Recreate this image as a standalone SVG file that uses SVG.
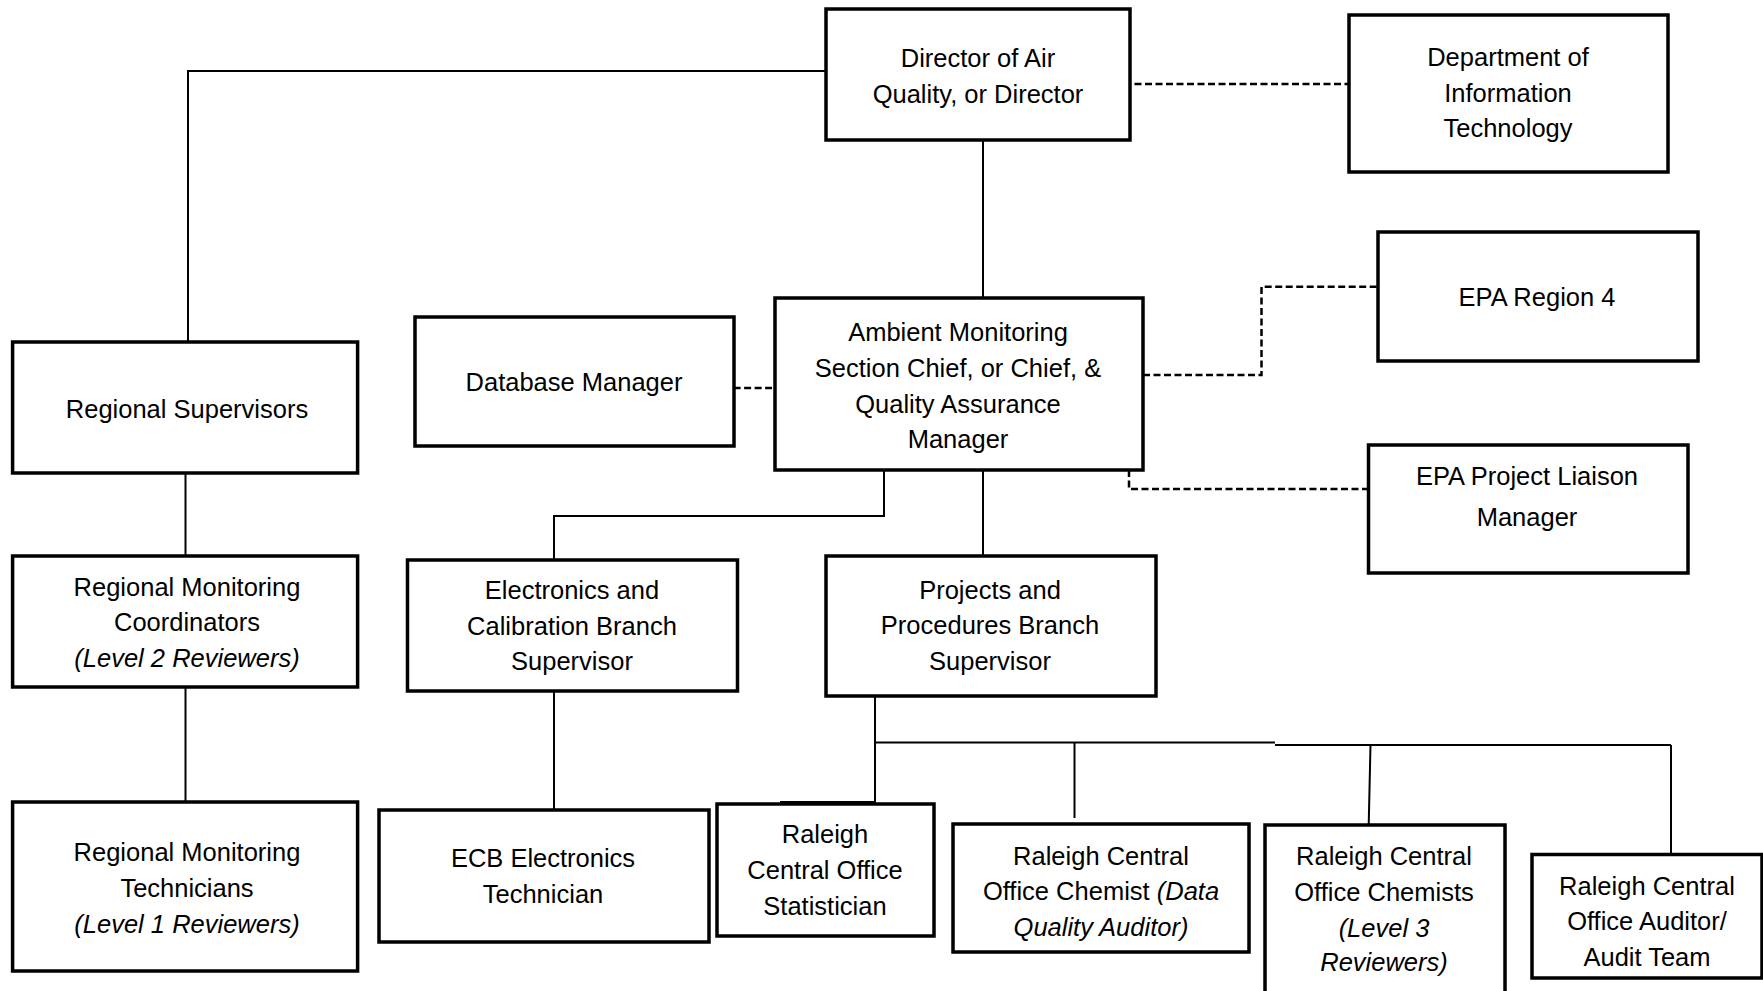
<svg xmlns="http://www.w3.org/2000/svg" width="1763" height="991" viewBox="0 0 1763 991">
<style>
.box{fill:#fff;stroke:#000;stroke-width:3.5}
.ln{fill:none;stroke:#000;stroke-width:2}
.dash{fill:none;stroke:#000;stroke-width:2.5;stroke-dasharray:7 3.5}
text{font-family:"Liberation Sans",Arial,sans-serif;font-size:25.5px;text-anchor:middle;fill:#000}
.it{font-style:italic}
</style>
<rect width="1763" height="991" fill="#fff"/>
<g id="connectors">
<path class="ln" d="M826,71 H188 V342"/>
<path class="ln" d="M983,140 V298"/>
<path class="ln" d="M185.5,473 V556"/>
<path class="ln" d="M185.5,687 V802"/>
<path class="ln" d="M884,470 V516 H554 V560"/>
<path class="ln" d="M983,470 V556"/>
<path class="ln" d="M554,691 V810"/>
<path class="ln" d="M875,696 V804"/>
<path class="ln" d="M780,802.5 H875" style="stroke-width:3"/>
<path class="ln" d="M875,742.5 H1275 M1275,745 H1671"/>
<path class="ln" d="M1074.5,742.5 V818"/>
<path class="ln" d="M1370.5,745 L1368.7,825"/>
<path class="ln" d="M1671,745 V854.5"/>
<path class="dash" d="M1125.5,9 V84 H1348.5"/>
<path class="dash" d="M1143,375 H1261.5 V286.7 H1378"/>
<path class="dash" d="M1129,470 V489 H1368.5"/>
<path class="dash" d="M733.6,388 H775"/>
</g>
<g id="director">
<rect class="box" x="826" y="9" width="304" height="131"/>
<text x="978" y="67">Director of Air</text>
<text x="978" y="102.5">Quality, or Director</text>
</g>
<g id="dept-it">
<rect class="box" x="1349" y="15" width="319" height="157"/>
<text x="1508" y="66">Department of</text>
<text x="1508" y="102">Information</text>
<text x="1508" y="137">Technology</text>
</g>
<g id="epa-region4">
<rect class="box" x="1378" y="232" width="320" height="129"/>
<text x="1537" y="306">EPA Region 4</text>
</g>
<g id="epa-liaison">
<rect class="box" x="1368.5" y="445" width="319.5" height="128"/>
<text x="1527" y="485">EPA Project Liaison</text>
<text x="1527" y="526">Manager</text>
</g>
<g id="ambient">
<rect class="box" x="775" y="298" width="368" height="172"/>
<text x="958" y="341">Ambient Monitoring</text>
<text x="958" y="377">Section Chief, or Chief, &amp;</text>
<text x="958" y="412.5">Quality Assurance</text>
<text x="958" y="448">Manager</text>
</g>
<g id="database-manager">
<rect class="box" x="415" y="317" width="319" height="129"/>
<text x="574" y="391">Database Manager</text>
</g>
<g id="regional-supervisors">
<rect class="box" x="12.6" y="342" width="345" height="131"/>
<text x="187" y="418">Regional Supervisors</text>
</g>
<g id="regional-coordinators">
<rect class="box" x="12.6" y="556" width="345" height="131"/>
<text x="187" y="596">Regional Monitoring</text>
<text x="187" y="631">Coordinators</text>
<text x="187" y="667" class="it">(Level 2 Reviewers)</text>
</g>
<g id="regional-technicians">
<rect class="box" x="12.6" y="802" width="345" height="169"/>
<text x="187" y="861">Regional Monitoring</text>
<text x="187" y="897">Technicians</text>
<text x="187" y="932.5" class="it">(Level 1 Reviewers)</text>
</g>
<g id="electronics-calibration">
<rect class="box" x="407.5" y="560" width="330" height="131"/>
<text x="572" y="599">Electronics and</text>
<text x="572" y="635">Calibration Branch</text>
<text x="572" y="670">Supervisor</text>
</g>
<g id="ecb-technician">
<rect class="box" x="379" y="810" width="330" height="132"/>
<text x="543" y="867">ECB Electronics</text>
<text x="543" y="903">Technician</text>
</g>
<g id="projects-procedures">
<rect class="box" x="826" y="556" width="330" height="140"/>
<text x="990" y="599">Projects and</text>
<text x="990" y="634">Procedures Branch</text>
<text x="990" y="670">Supervisor</text>
</g>
<g id="statistician">
<rect class="box" x="717" y="804" width="217" height="132"/>
<text x="825" y="843">Raleigh</text>
<text x="825" y="879">Central Office</text>
<text x="825" y="915">Statistician</text>
</g>
<g id="chemist-dqa">
<rect class="box" x="953" y="824" width="296" height="128"/>
<text x="1101" y="865">Raleigh Central</text>
<text x="1101" y="900">Office Chemist <tspan class="it">(Data</tspan></text>
<text x="1101" y="936" class="it">Quality Auditor)</text>
</g>
<g id="chemists-level3">
<rect class="box" x="1265" y="825" width="240" height="180"/>
<text x="1384" y="865">Raleigh Central</text>
<text x="1384" y="900.5">Office Chemists</text>
<text x="1384" y="936.5" class="it">(Level 3</text>
<text x="1384" y="971" class="it">Reviewers)</text>
</g>
<g id="auditor">
<rect class="box" x="1532" y="854.5" width="230" height="123.5"/>
<text x="1647" y="895">Raleigh Central</text>
<text x="1647" y="930">Office Auditor/</text>
<text x="1647" y="965.5">Audit Team</text>
</g>
</svg>
